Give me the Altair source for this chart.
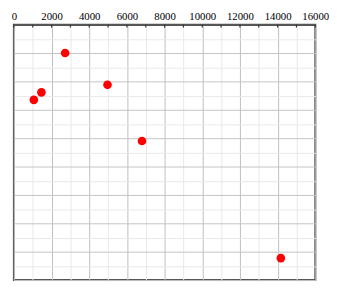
import altair as alt
import pandas as pd

# Data
x_vals = [2720, 4970, 1460, 1060, 6800, 14170]
y_vals = [2.0, 4.24, 4.77, 5.30, 8.2, 16.45]
x_ticks = list(range(0, 16001, 1000))
y_ticks = list(range(0, 19))

df = pd.DataFrame({"x": x_vals, "y": y_vals})
df_ticks = pd.DataFrame({"t": x_ticks})

x_scale = alt.Scale(domain=[0, 16000], nice=False, zero=False)
y_scale = alt.Scale(domain=[0, 18], nice=False, reverse=True, zero=False)

x_axis = alt.Axis(
    orient="top",
    values=x_ticks,
    format="d",
    labelExpr="datum.value % 2000 === 0 ? datum.label : ''",
    grid=True,
    gridColor={"condition": {"test": "datum.value % 2000 === 0", "value": "#bdbdbd"}, "value": "#e8e8e8"},
    ticks=False,
    domainColor="#333333",
    domainWidth=1.5,
    labelFont="Liberation Serif, Times New Roman, serif",
    labelFontSize=11,
    labelColor="#000000",
    labelPadding=3,
    labelOverlap=False,
    labelFlush=False,
    title=None,
)

points = alt.Chart(df).mark_circle(size=78, color="#ff0000", opacity=1).encode(
    x=alt.X("x:Q", scale=x_scale, axis=x_axis),
    y=alt.Y(
        "y:Q",
        scale=y_scale,
        axis=alt.Axis(
            values=y_ticks,
            labels=False,
            ticks=False,
            domain=False,
            grid=True,
            gridColor={"condition": {"test": "datum.value % 2 === 0", "value": "#c4c4c4"}, "value": "#e8e8e8"},
            title=None,
        ),
    ),
)

tick_marks = alt.Chart(df_ticks).mark_rule(color="#333333", strokeWidth=1.2).encode(
    x=alt.X("t:Q", scale=x_scale, axis=x_axis),
    y=alt.value(0),
    y2=alt.value(3),
)

chart = alt.layer(points, tick_marks).properties(
    width=328,
    height=275,
    autosize=alt.AutoSizeParams(type="fit", contains="padding"),
    padding={"left": 3, "top": 0, "right": 0, "bottom": 0},
).configure_view(stroke="#555555", strokeWidth=2)

chart.save("out.html", embed_options={"renderer": "svg", "actions": False})
